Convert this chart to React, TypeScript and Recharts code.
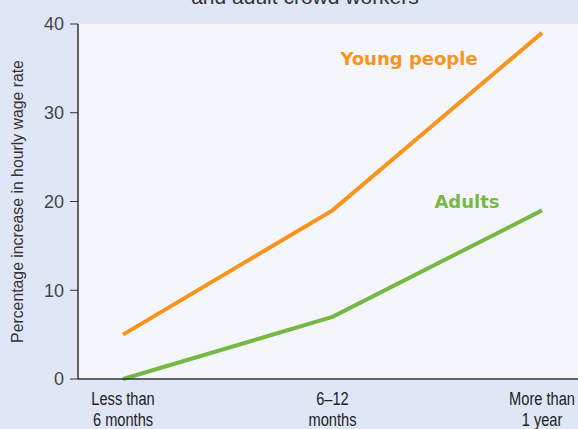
import {LineChart, Line, CartesianGrid, XAxis, YAxis} from "recharts";

const periods = ["Less than 6 months", "6–12 months", "More than 1 year"];
const periodLines = [["Less than", "6 months"], ["6–12", "months"], ["More than", "1 year"]];
const youngPeople = [5, 19, 39];
const adults = [0, 7, 19];
const yTicks = [0, 10, 20, 30, 40];

const data = periods.map((p, i) => ({period: p, young: youngPeople[i], adults: adults[i]}));

const BG = "#dfe6f5";
const PLOT = "#f4f6fc";
const ORANGE = "#f7941d";
const GREEN = "#76b843";
const AXIS = "#333333";

// condensed look: squeeze a regular sans horizontally
const XTick = (props: any) => {
    const {x, y, index} = props;
    const lines = periodLines[index] || [];
    return (
        <g transform={`translate(${x},${y}) scale(0.77,1)`}>
            <text x={0} y={0} textAnchor="middle" fill="#222"
                  style={{fontFamily: "'Liberation Sans', sans-serif", fontSize: 19}}>
                {lines.map((l, i) => (
                    <tspan key={i} x={0} dy={i === 0 ? 18 : 21}>{l}</tspan>
                ))}
            </text>
        </g>
    );
};

export default function App() {
    return (
        <div style={{position: "absolute", left: 0, top: 0, width: 578, height: 429, background: BG, overflow: "hidden"}}>
            <div style={{position: "absolute", top: -13, left: 0, width: 610, textAlign: "center", fontFamily: "'Liberation Sans', sans-serif", fontSize: 21, lineHeight: "20px", color: "#333"}}>
                and adult crowd workers
            </div>
            <LineChart width={578} height={429} data={data} margin={{top: 24, right: 0, bottom: 0, left: 0}}>
                <CartesianGrid fill={PLOT} horizontal={false} vertical={false} />
                <XAxis dataKey="period" height={50} padding={{left: 45, right: 36}}
                       axisLine={{stroke: AXIS, strokeWidth: 1.5}} tickLine={false}
                       tick={<XTick />} interval={0} />
                <YAxis domain={[0, 40]} ticks={yTicks} width={78} tickSize={8} tickMargin={6}
                       axisLine={{stroke: AXIS, strokeWidth: 1.5}} tickLine={{stroke: AXIS}}
                       tick={{fill: "#444", fontSize: 18, fontFamily: "'Liberation Sans', sans-serif"}}
                       label={{value: "Percentage increase in hourly wage rate", angle: -90, position: "center", dx: -22,
                           style: {fill: "#333", fontSize: 15.8, fontFamily: "'Liberation Sans', sans-serif"}}} />
                <Line dataKey="young" stroke={ORANGE} strokeWidth={4} dot={false} isAnimationActive={false} />
                <Line dataKey="adults" stroke={GREEN} strokeWidth={4} dot={false} isAnimationActive={false} />
            </LineChart>
            <div style={{position: "absolute", left: 319, top: 48, width: 180, textAlign: "center", color: ORANGE, fontWeight: "bold", fontSize: 18, fontFamily: "'DejaVu Sans', sans-serif"}}>
                Young people
            </div>
            <div style={{position: "absolute", left: 417, top: 191, width: 100, textAlign: "center", color: GREEN, fontWeight: "bold", fontSize: 18, fontFamily: "'DejaVu Sans', sans-serif"}}>
                Adults
            </div>
        </div>
    );
}
